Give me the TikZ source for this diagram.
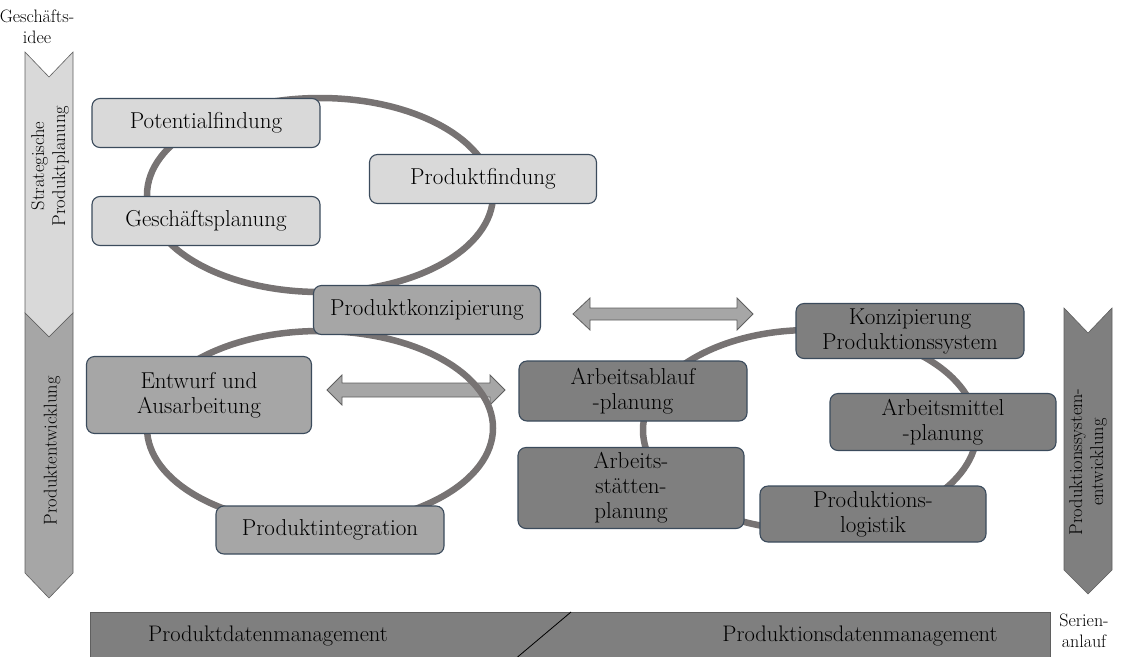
\documentclass[tikz,border=0pt]{standalone}
\definecolor{lightfill}{HTML}{D9D9D9}
\definecolor{midfill}{HTML}{A6A6A6}
\definecolor{darkfill}{HTML}{7F7F7F}
\definecolor{boxline}{HTML}{3B4B5C}
\definecolor{ringcol}{HTML}{777373}
\definecolor{chevline}{HTML}{5F5F5F}
\begin{document}
\begin{tikzpicture}[x=1pt,y=-1pt,
  phase/.style={draw=boxline, line width=1.1pt, rounded corners=8pt, align=center,
    inner sep=0pt, font=\rmfamily\fontsize{23}{25}\selectfont},
  lightbox/.style={phase, fill=lightfill},
  midbox/.style={phase, fill=midfill},
  darkbox/.style={phase, fill=darkfill},
  ring/.style={draw=ringcol, line width=6.5pt},
  chevron/.style={draw=chevline, line width=0.6pt},
  biarrow/.style={draw=chevline, line width=0.8pt, fill=midfill},
  sidelabel/.style={rotate=90, align=center, font=\rmfamily\fontsize{18.5}{21}\selectfont},
  cornerlabel/.style={align=center, font=\rmfamily\fontsize{18}{21}\selectfont},
  barlabel/.style={font=\rmfamily\fontsize{22.5}{25}\selectfont}
]
\useasboundingbox (0,0) rectangle (1126,656);

% phase chevrons on the left
\draw[chevron, fill=lightfill] (25,52) -- (49,77) -- (73,52) -- (73,313) -- (49,337) -- (25,313) -- cycle;
\draw[chevron, fill=midfill] (25,313) -- (49,337) -- (73,313) -- (73,573) -- (49,598) -- (25,573) -- cycle;
% phase chevron on the right
\draw[chevron, fill=darkfill] (1064,308) -- (1088,333) -- (1112,308) -- (1112,570) -- (1088,594) -- (1064,570) -- cycle;

\node[cornerlabel] (idee) at (37,27) {Geschäfts-\\idee};
\node[cornerlabel] (serie) at (1084,631) {Serien-\\anlauf};
\node[sidelabel] (strat) at (50,166) {Strategische\\Produktplanung};
\node[sidelabel] (pe) at (52,451) {Produktentwicklung};
\node[sidelabel] (pse) at (1088,462) {Produktionssystem-\\entwicklung};

% data management bar
\draw[draw=chevline, line width=0.8pt, fill=darkfill] (90,612) rectangle (1050,670);
\coordinate (slashA) at (514,660);
\coordinate (slashB) at (571,612);
\draw[line width=0.8pt] (slashA) -- (slashB);
\node[barlabel] (pdm) at (268,636) {Produktdatenmanagement};
\node[barlabel] (prdm) at (860,636) {Produktionsdatenmanagement};

% double arrows between product and production side
\draw[biarrow] (573,314) -- (590,298) -- (590,308) -- (737,308) -- (737,298) -- (753,314)
  -- (737,330) -- (737,320) -- (590,320) -- (590,330) -- cycle;
\draw[biarrow] (327,390) -- (342,375) -- (342,383) -- (490,383) -- (490,375) -- (505,390)
  -- (490,405) -- (490,397) -- (342,397) -- (342,405) -- cycle;

% cycles
\draw[ring] (320,195) ellipse [x radius=173pt, y radius=97pt];
\draw[ring] (320,428) ellipse [x radius=173pt, y radius=97pt];
\draw[ring] (810,430) ellipse [x radius=167pt, y radius=100pt];

% strategic product planning
\node[lightbox, minimum width=228pt, minimum height=49pt] (pot) at (206,123) {Potentialfindung};
\node[lightbox, minimum width=227pt, minimum height=49pt] (pf) at (483,179) {Produktfindung};
\node[lightbox, minimum width=228pt, minimum height=49pt] (gp) at (206,221) {Geschäftsplanung};

% product development
\node[midbox, minimum width=227pt, minimum height=49pt] (pk) at (427,310) {Produktkonzipierung};
\node[midbox, minimum width=225pt, minimum height=77pt] (ea) at (199,395) {Entwurf und\\Ausarbeitung};
\node[midbox, minimum width=228pt, minimum height=48pt] (pi) at (330,530) {Produktintegration};

% production system development
\node[darkbox, minimum width=228pt, minimum height=55pt] (kps) at (910,331) {Konzipierung\\Produktionssystem};
\node[darkbox, minimum width=228pt, minimum height=60pt] (aap) at (633,391) {Arbeitsablauf\\-planung};
\node[darkbox, minimum width=226pt, minimum height=57pt] (amp) at (943,422) {Arbeitsmittel\\-planung};
\node[darkbox, minimum width=226pt, minimum height=81pt] (asp) at (631,488) {Arbeits-\\stätten-\\planung};
\node[darkbox, minimum width=226pt, minimum height=56pt] (pl) at (873,514) {Produktions-\\logistik};

\end{tikzpicture}
\end{document}
